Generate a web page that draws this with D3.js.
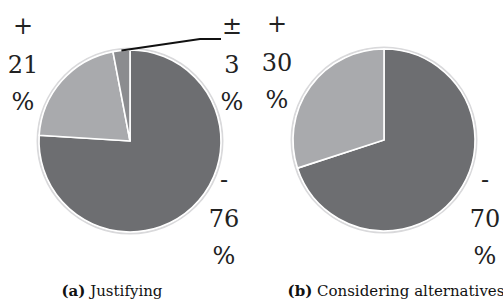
<!DOCTYPE html>
<html>
<head>
<meta charset="utf-8">
<script src="https://cdn.jsdelivr.net/npm/d3@7"></script>
<style>
body{margin:0;background:#fff;}
</style>
</head>
<body>
<div id="chart"></div>
<script>
// values
let panels=["(a)","(b)"];
let titles=["Justifying","Considering alternatives"];
let signs=["-","+","±"];
let justifying=[76,21,3];
let alternatives=[70,30];

let width=503;
let height=305;
let radius=91;
let serif="'DejaVu Serif', 'Liberation Serif', serif";
let centers=[[130,141],[384,140]];
let colors={"-":"#6d6e71","+":"#a9aaad","±":"#8b8c8f"};
// label anchor (x, baseline of first line) for each slice, by panel
let labelPos=[
  {"-":[224,188],"+":[23,34],"±":[232,34]},
  {"-":[485,188],"+":[277,32]}
];
let lineOffsets=[0,39,76];

let chart=d3.select("#chart")
.append("svg")
.attr("width",width).attr("height",height);

let pie=d3.pie().sort(null).value(d=>d.value);
let arc=d3.arc().innerRadius(0).outerRadius(radius);

[justifying,alternatives].forEach(function(values,i){
  let data=values.map((v,j)=>({sign:signs[j],value:v}));
  let g=chart.append("g")
  .attr("transform","translate("+centers[i][0]+","+centers[i][1]+")");

  // soft rim round the pie
  g.append("circle").attr("r",radius+1.5)
  .attr("fill","none").attr("stroke","#d9d9db").attr("stroke-width",2);

  let arcs=pie(data);
  g.selectAll("path")
  .data(arcs)
  .enter()
  .append("path")
  .attr("d",arc)
  .attr("fill",d=>colors[d.data.sign])
  .attr("stroke","#fff")
  .attr("stroke-width",1.6);

  arcs.forEach(function(d){
    let p=labelPos[i][d.data.sign];
    let lines=[d.data.sign,String(d.data.value),"%"];
    chart.append("g").selectAll("text")
    .data(lines)
    .enter()
    .append("text")
    .attr("x",p[0])
    .attr("y",(t,k)=>p[1]+lineOffsets[k])
    .attr("text-anchor","middle")
    .style("font-family",serif)
    .attr("font-size",24)
    .attr("fill","#222")
    .text(t=>t);

    // leader for the small slice
    if(d.data.sign==="±"){
      let a=(d.startAngle+d.endAngle)/2;
      let sx=centers[i][0]+Math.sin(a)*radius;
      let sy=centers[i][1]-Math.cos(a)*radius;
      chart.append("polyline")
      .attr("points",[[sx,sy],[200,39],[221,39]].map(q=>q.join(",")).join(" "))
      .attr("fill","none").attr("stroke","#111").attr("stroke-width",2);
    }
  });

  let cap=chart.append("text")
  .attr("x",[112,396][i]).attr("y",296)
  .attr("text-anchor","middle")
  .style("font-family",serif)
  .attr("font-size",15)
  .attr("fill","#111");
  cap.append("tspan").attr("font-weight","bold").text(panels[i]);
  cap.append("tspan").text(" "+titles[i]);
});
</script>
</body>
</html>
